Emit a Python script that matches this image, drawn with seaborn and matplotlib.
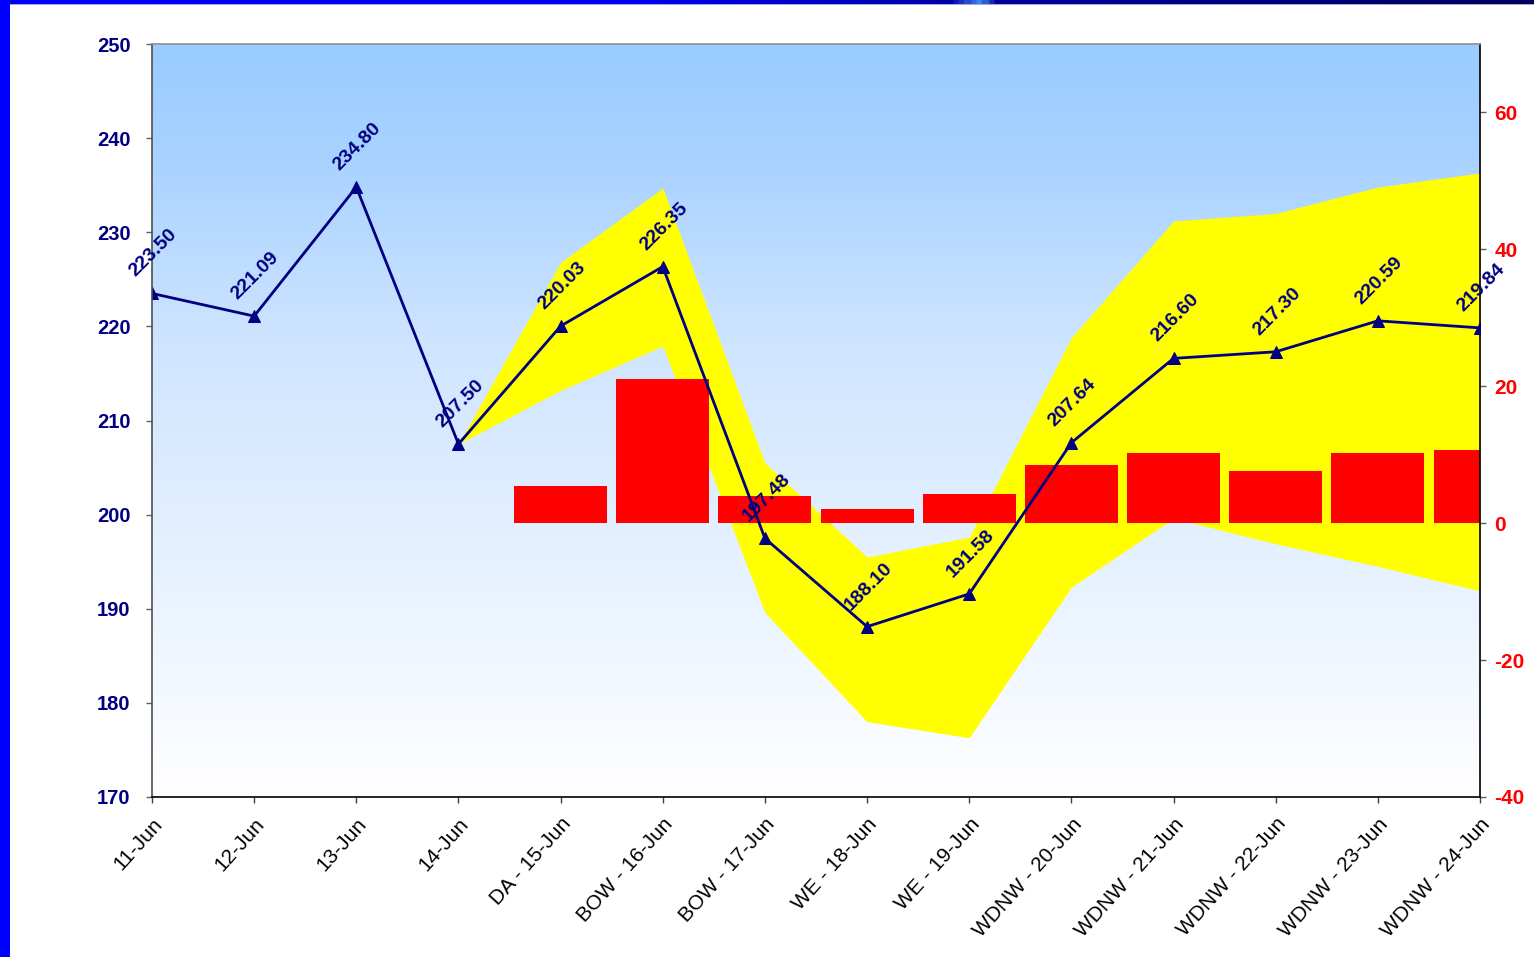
import numpy as np
import pandas as pd
import matplotlib
matplotlib.use("Agg")
import matplotlib.pyplot as plt
import seaborn as sns
from matplotlib.colors import LinearSegmentedColormap
from matplotlib.patches import Rectangle

# ---------------- data ----------------
categories = ["11-Jun", "12-Jun", "13-Jun", "14-Jun", "DA - 15-Jun", "BOW - 16-Jun",
              "BOW - 17-Jun", "WE - 18-Jun", "WE - 19-Jun", "WDNW - 20-Jun",
              "WDNW - 21-Jun", "WDNW - 22-Jun", "WDNW - 23-Jun", "WDNW - 24-Jun"]
line_values = [223.50, 221.09, 234.80, 207.50, 220.03, 226.35, 197.48, 188.10,
               191.58, 207.64, 216.60, 217.30, 220.59, 219.84]
band_categories = categories[3:]
band_upper = [207.5, 226.8, 234.7, 205.5, 195.5, 197.6, 218.8, 231.2, 232.0, 234.8, 236.3]
band_lower = [207.5, 213.2, 217.9, 189.6, 178.0, 176.3, 192.3, 199.6, 196.9, 194.5, 191.9]
bar_categories = categories[4:]
bar_values = [5.5, 21.0, 3.9, 2.0, 4.3, 8.5, 10.2, 7.6, 10.2, 10.7]
left_ticks = [170, 180, 190, 200, 210, 220, 230, 240, 250]
right_ticks = [-40, -20, 0, 20, 40, 60]

NAVY = "#000080"

sns.set_theme(style="white")
plt.rcParams["font.family"] = ["Liberation Sans", "DejaVu Sans"]

W, H = 1534, 957
fig = plt.figure(figsize=(W / 100, H / 100), dpi=100, facecolor="white")

# frame decorations (slide border)
fig.add_artist(Rectangle((0, 0), 10 / W, 1, transform=fig.transFigure,
                         facecolor="#0000FF", edgecolor="none", zorder=10))
top_ax = fig.add_axes([0, 1 - 4 / H, 1, 4 / H])
top_cmap = LinearSegmentedColormap.from_list(
    "top", [(0, "#0000FF"), (0.42, "#0000EE"), (0.62, "#0000A8"), (0.64, "#4488EE"),
            (0.65, "#0000A0"), (1.0, "#00005C")])
top_ax.imshow(np.linspace(0, 1, 600)[None, :], cmap=top_cmap, aspect="auto",
              extent=[0, 1, 0, 1])
top_ax.set_axis_off()
fig.add_artist(Rectangle((0, 1 - 5 / H), 1, 1 / H, transform=fig.transFigure,
                         facecolor="#A8A8D8", edgecolor="none", zorder=9))

pos = [152 / W, 1 - 797 / H, (1480 - 152) / W, (797 - 44) / H]
ax = fig.add_axes(pos)
ax2 = ax.twinx()
ax.set_zorder(2)
ax.patch.set_visible(False)
ax2.set_zorder(1)

# gradient background on ax2
grad_cmap = LinearSegmentedColormap.from_list(
    "bg", [(0, "#FFFFFF"), (0.6, "#CFE5FF"), (0.85, "#A8D2FF"), (1.0, "#99CCFF")])
ax2.imshow(np.linspace(0, 1, 256)[:, None], cmap=grad_cmap, origin="lower",
           extent=[0, 1, 0, 1], transform=ax2.transAxes, aspect="auto", zorder=0)

# bars (right axis)
bar_df = pd.DataFrame({"cat": bar_categories, "val": bar_values})
sns.barplot(data=bar_df, x="cat", y="val", order=categories, ax=ax2, color="#FF0000",
            saturation=1, width=0.91, errorbar=None, linewidth=0, edgecolor="none",
            zorder=2)

# yellow band (left axis units, drawn below the bars)
band_x = [categories.index(c) for c in band_categories]
ax2.fill_between(band_x, band_lower, band_upper, color="#FFFF00", linewidth=0,
                 transform=ax.transData, zorder=1)

# line (left axis)
line_df = pd.DataFrame({"x": np.arange(len(categories)), "y": line_values})
sns.lineplot(data=line_df, x="x", y="y", ax=ax, color=NAVY, linewidth=2,
             marker="^", markersize=8, markeredgecolor=NAVY, markerfacecolor=NAVY)
for i, v in enumerate(line_values):
    ax.annotate(f"{v:.2f}", (i, v), xytext=(1, 29), textcoords="offset points",
                ha="center", va="center", rotation=45, color=NAVY,
                fontsize=14, fontweight="bold", annotation_clip=False, zorder=5)

# axes settings
ax.set_xlim(0, len(categories) - 1)
ax.set_ylim(170, 250)
ax2.set_ylim(-40, 70)
ax.set_xticks(range(len(categories)))
ax.set_xticklabels(categories, rotation=48, ha="right", rotation_mode="anchor",
                   fontsize=15, color="black")
ax.set_yticks(left_ticks)
ax.set_yticklabels([str(t) for t in left_ticks], fontsize=14.5, fontweight="bold", color=NAVY)
ax2.set_yticks(right_ticks)
ax2.set_yticklabels([str(t) for t in right_ticks], fontsize=15, fontweight="bold",
                    color="#FF0000")
ax.set_xlabel("")
ax.set_ylabel("")
ax2.set_xlabel("")
ax2.set_ylabel("")

ax.tick_params(axis="x", bottom=True, direction="out", length=4.5, width=1,
               color="#404040", pad=8)
ax.tick_params(axis="y", left=True, direction="out", length=4.5, width=1,
               color="#606060", pad=11)
ax2.tick_params(axis="y", right=True, direction="out", length=4.5, width=1,
                color="#606060", pad=6)

for s in ["left", "top", "bottom"]:
    ax2.spines[s].set_visible(False)
ax2.spines["right"].set_color("black")
ax2.spines["right"].set_linewidth(1.2)
ax.spines["right"].set_visible(False)
ax.spines["left"].set_color("#505050")
ax.spines["left"].set_linewidth(1.2)
ax.spines["bottom"].set_color("black")
ax.spines["bottom"].set_linewidth(1.2)
ax.spines["top"].set_color("#909090")
ax.spines["top"].set_linewidth(1.2)
ax.grid(False)
ax2.grid(False)

fig.savefig("out.png", dpi=100, facecolor="white")
